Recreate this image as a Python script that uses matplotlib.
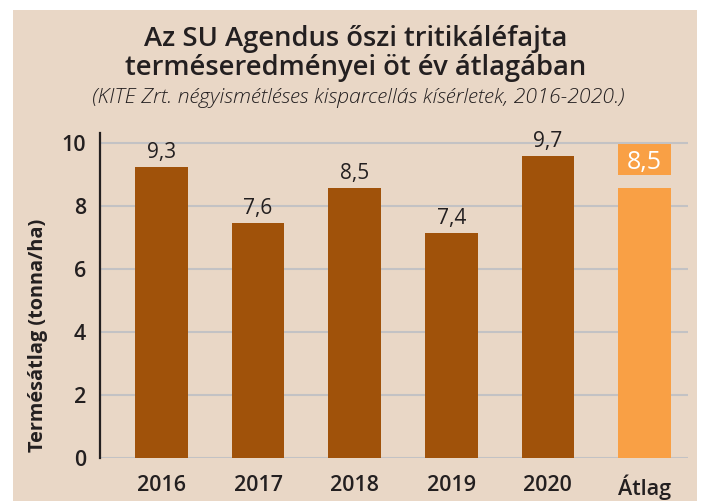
import matplotlib
matplotlib.use("Agg")
import matplotlib.pyplot as plt
from matplotlib.patches import Rectangle

categories = ["2016", "2017", "2018", "2019", "2020", "Átlag"]
heights = [9.23, 7.46, 8.56, 7.14, 9.59, 8.56]
value_labels = ["9,3", "7,6", "8,5", "7,4", "9,7", "8,5"]
yticks = [0, 2, 4, 6, 8, 10]

title_line1 = "Az SU Agendus őszi tritikáléfajta"
title_line2 = "terméseredményei öt év átlagában"
subtitle = "(KITE Zrt. négyismétléses kisparcellás kísérletek, 2016-2020.)"
ylabel = "Termésátlag (tonna/ha)"

BG = "#e9d7c6"
BROWN = "#a0520a"
ORANGE = "#f9a045"
GRID = "#c3c2c4"
TXT = "#231f20"
FONT = ["Open Sans", "DejaVu Sans"]

W, H = 702, 501
fig = plt.figure(figsize=(W / 100, H / 100), dpi=100)
fig.patch.set_facecolor("white")
fig.add_artist(Rectangle((13 / W, 0), (697 - 13) / W, (H - 10) / H,
                         transform=fig.transFigure, facecolor=BG,
                         edgecolor="none", zorder=-10))

ax = fig.add_axes([100 / W, (H - 458.3) / H, 588 / W, 325 / H])
ax.set_facecolor("none")

x = list(range(len(categories)))
colors = [BROWN] * (len(categories) - 1) + [ORANGE]
bars = ax.bar(x, heights, width=0.545, color=colors, zorder=3)

ax.set_xlim(-0.636, 5.451)
ax.set_ylim(0, 10.3)
ax.set_yticks(yticks)
ax.set_yticklabels([str(t) for t in yticks])
ax.set_xticks(x)
ax.set_xticklabels(categories)
ax.yaxis.grid(True, color=GRID, linewidth=1.5, zorder=0)
ax.set_axisbelow(True)
ax.tick_params(axis="both", length=0, labelsize=15.5, colors=TXT)
ax.tick_params(axis="y", pad=10)
ax.tick_params(axis="x", pad=12)
for lab in ax.get_xticklabels() + ax.get_yticklabels():
    lab.set_family(FONT)
    lab.set_fontweight("semibold")

for s in ["top", "right", "bottom"]:
    ax.spines[s].set_visible(False)
ax.spines["left"].set_color(TXT)
ax.spines["left"].set_linewidth(1.6)
ax.spines["left"].set_zorder(5)

ax.set_ylabel(ylabel, family=FONT, fontweight="bold", fontsize=14.3,
              color=TXT)
ax.yaxis.set_label_coords(-(100 - 48) / 588, (458.3 - 335) / 325)

px_per_unit = 325 / 10.3
for i, (b, lab) in enumerate(zip(bars, value_labels)):
    cx = b.get_x() + b.get_width() / 2
    top = b.get_height()
    if i < len(bars) - 1:
        ax.annotate(lab, (cx, top), xytext=(0, 6.5), textcoords="offset points",
                    ha="center", va="baseline", fontsize=15, color=TXT,
                    family=FONT)
    else:
        box_bottom = top + 13 / px_per_unit
        box_h = 31 / px_per_unit
        ax.add_patch(Rectangle((b.get_x(), box_bottom), b.get_width(), box_h,
                               facecolor=ORANGE, edgecolor="none", zorder=3,
                               clip_on=False))
        ax.text(cx, box_bottom + box_h / 2, lab, ha="center", va="center_baseline",
                fontsize=18, color="white", family=FONT, zorder=4)

fig.text(356 / W, 1 - 46 / H, title_line1, ha="center", va="baseline",
         fontsize=19.7, fontweight="semibold", family=FONT, color=TXT)
fig.text(356 / W, 1 - 75 / H, title_line2, ha="center", va="baseline",
         fontsize=19.7, fontweight="semibold", family=FONT, color=TXT)
fig.text(358 / W, 1 - 103 / H, subtitle, ha="center", va="baseline",
         fontsize=15.3, style="italic", fontweight="light", family=FONT,
         color=TXT)

fig.savefig("out.png", dpi=100, facecolor=fig.get_facecolor())
